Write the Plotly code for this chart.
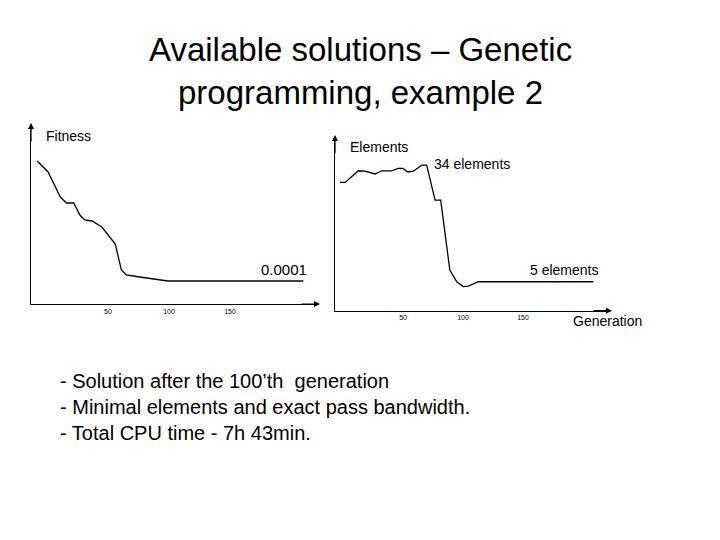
import plotly.graph_objects as go

fit_gen = [-8, 1, 11, 16, 22, 27, 31, 37, 45, 56, 61, 65, 76, 99, 210]
fit_val = [143, 132, 107, 101, 101, 89, 84, 83, 77, 60, 34, 29, 27, 23, 23]
el_gen = [-2.5, 1.7, 12.8, 18.3, 26.7, 32.2, 40.6, 46, 50, 54, 58.6, 65.6, 69.7, 76.7, 81.4, 89, 94.8, 100.3, 104.4, 112.8, 208.6]
el_val = [29.7, 29.7, 32.6, 32.5, 31.8, 32.6, 32.6, 33.2, 33.2, 32.3, 32.5, 34, 34, 25.3, 25.3, 7.9, 5.0, 3.8, 3.9, 5.0, 5.0]
tick_vals = [50, 100, 150]
bullets = ["- Solution after the 100’th  generation",
           "- Minimal elements and exact pass bandwidth.",
           "- Total CPU time - 7h 43min."]

W, H = 720, 540
OX, OY = 8, 8  # page body margin offset

def px(x):
    return (x - OX) / W

def py(y):
    return 1 - (y - OY) / H

fig = go.Figure()
fig.add_trace(go.Scatter(x=fit_gen, y=fit_val, mode="lines", line=dict(color="black", width=1.3), xaxis="x", yaxis="y", showlegend=False))
fig.add_trace(go.Scatter(x=el_gen, y=el_val, mode="lines", line=dict(color="black", width=1.3), xaxis="x2", yaxis="y2", showlegend=False))

ax = dict(showgrid=False, zeroline=False, showline=True, linecolor="black", linewidth=1.2,
          tickvals=tick_vals, ticks="", tickfont=dict(size=7, family="Liberation Sans", color="black"))
ay = dict(showgrid=False, zeroline=False, showline=True, linecolor="black", linewidth=1.2, showticklabels=False, ticks="")
fig.update_layout(
    width=W, height=H, margin=dict(l=0, r=0, t=0, b=0),
    paper_bgcolor="white", plot_bgcolor="white",
    xaxis=dict(ax, domain=[px(31), px(318)], range=[-13, 222], anchor="y"),
    yaxis=dict(ay, domain=[py(304), py(125)], range=[0, 179], anchor="x"),
    xaxis2=dict(ax, domain=[px(335), px(610)], range=[-6.7, 222.5], anchor="y2"),
    yaxis2=dict(ay, domain=[py(310.7), py(137)], range=[-2.2, 41], anchor="x2"),
)

def txt(x, y, s, size, anchor="left"):
    fig.add_annotation(x=px(x), y=py(y), xref="paper", yref="paper", text=s, showarrow=False,
                       xanchor=anchor, yanchor="middle", font=dict(family="Liberation Sans", size=size, color="black"))

def arrow(x, y, dx, dy):
    fig.add_annotation(x=px(x), y=py(y), xref="paper", yref="paper", ax=dx, ay=dy, text="",
                       showarrow=True, arrowhead=2, arrowsize=1, arrowwidth=1.2, arrowcolor="black")

arrow(31, 123, 0, 20); arrow(320, 304, -20, 0)
arrow(335, 135, 0, 20); arrow(612, 310.7, -20, 0)

txt(360, 50, "Available solutions – Genetic", 33, "center")
txt(360, 92, "programming, example 2", 33, "center")
txt(44, 136, "Fitness", 14)
txt(259, 269, "0.0001", 15)
txt(348, 147, "Elements", 14)
txt(432, 164, "34 elements", 14)
txt(528, 270, "5 elements", 14)
txt(571, 321, "Generation", 14)
for i, b in enumerate(bullets):
    txt(58, 381 + 26*i, b, 20)

fig.write_html("out.html")
